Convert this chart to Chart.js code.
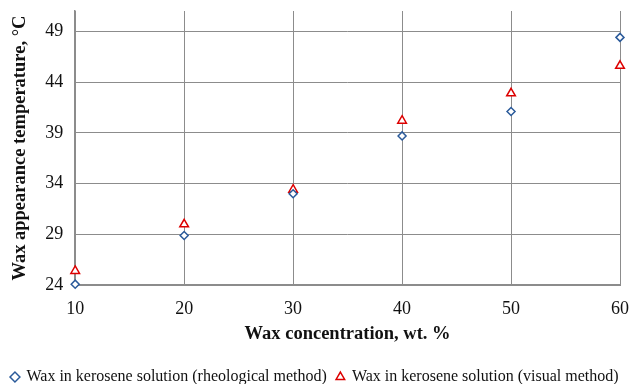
<!DOCTYPE html>
<html>
<head>
<meta charset="utf-8">
<script src="https://cdn.jsdelivr.net/npm/chart.js@4/dist/chart.umd.min.js"></script>
<style>
html,body{margin:0;padding:0;background:#fff;}
#wrap{width:630px;height:384px;}
</style>
</head>
<body>
<div id="wrap"><canvas id="c" width="630" height="384"></canvas></div>
<script>
const concentrations = [10, 20, 30, 40, 50, 60];
const rheological = [24.1, 28.9, 33.0, 38.7, 41.1, 48.4];
const visual = [25.4, 30.0, 33.4, 40.2, 42.9, 45.6];
const xTicks = [10, 20, 30, 40, 50, 60];
const yTicks = [24, 29, 34, 39, 44, 49];
const seriesNames = ["Wax in kerosene solution (rheological method)", "Wax in kerosene solution (visual method)"];
const xTitle = "Wax concentration, wt. %";
const yTitle = "Wax appearance temperature, °C";

const toPts = arr => concentrations.map((x, i) => ({x: x, y: arr[i]}));
const gridColor = "#8c8c8c";
const font = "'Liberation Serif', 'Times New Roman', serif";

new Chart(document.getElementById('c'), {
  type: 'scatter',
  data: {
    datasets: [
      {label: seriesNames[0], data: toPts(rheological), clip: false, pointStyle: 'rectRot', radius: 4, borderColor: '#2a5a9a', backgroundColor: '#ffffff', borderWidth: 1.5, pointHoverRadius: 4},
      {label: seriesNames[1], data: toPts(visual), clip: false, pointStyle: 'triangle', radius: 5, borderColor: '#dd0000', backgroundColor: '#ffffff', borderWidth: 1.5, pointHoverRadius: 5}
    ]
  },
  options: {
    responsive: false,
    animation: false,
    layout: {padding: {left: 0, right: 0, top: 11, bottom: -11}},
    plugins: {
      tooltip: {enabled: false},
      legend: {
        position: 'bottom',
        labels: {
          usePointStyle: true,
          boxWidth: 7, boxHeight: 7,
          padding: 10,
          color: '#111',
          font: {family: font, size: 16}
        }
      }
    },
    scales: {
      x: {
        type: 'linear', min: 10, max: 60,
        afterBuildTicks: s => { s.ticks = xTicks.map(v => ({value: v})); },
        afterFit: s => { s.paddingLeft = 0; s.paddingRight = 10; },
        grid: {color: gridColor, lineWidth: 1, drawTicks: false},
        border: {color: gridColor, width: 2},
        ticks: {color: '#111', padding: 13, font: {family: font, size: 18}},
        title: {display: true, text: xTitle, color: '#111', padding: {top: -10, bottom: 14}, font: {family: font, size: 18.5, weight: 'bold'}}
      },
      y: {
        type: 'linear', min: 24, max: 51,
        afterBuildTicks: s => { s.ticks = yTicks.map(v => ({value: v})); },
        afterFit: s => { s.paddingTop = 0; s.paddingBottom = 0; },
        grid: {color: gridColor, lineWidth: 1, drawTicks: false},
        border: {color: gridColor, width: 1.5},
        ticks: {color: '#111', padding: 12, font: {family: font, size: 18}},
        title: {display: true, text: yTitle, color: '#111', padding: {top: 9, bottom: 2}, font: {family: font, size: 18.5, weight: 'bold'}}
      }
    }
  }
});
</script>
</body>
</html>
